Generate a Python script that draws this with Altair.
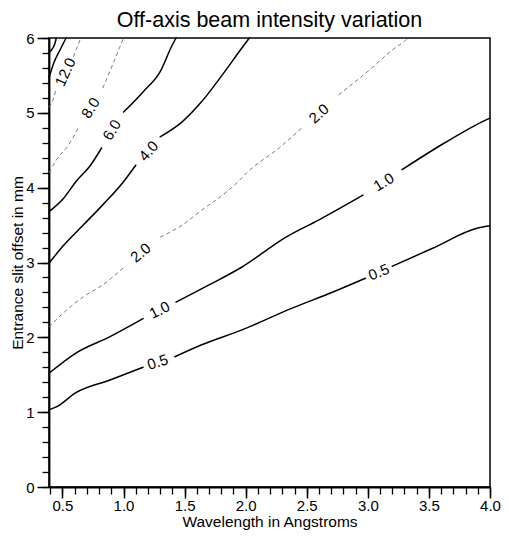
import altair as alt
import pandas as pd

# ---------------- data ----------------
X_DOMAIN = [0.39, 4.0]
Y_DOMAIN = [0, 6]
X_MAJOR = [0.5, 1.0, 1.5, 2.0, 2.5, 3.0, 3.5, 4.0]
X_MINOR = [round(0.4 + 0.1 * i, 1) for i in range(37)]
Y_MAJOR = [0, 1, 2, 3, 4, 5, 6]
Y_MINOR = [round(0.2 * i, 1) for i in range(31)]

# contour polylines (wavelength, offset); each inner list is one stretch between labels
LEVEL_05 = [
    [(0.39, 1.03), (0.45, 1.07), (0.61, 1.26), (0.89, 1.43), (1.16, 1.60)],
    [(1.42, 1.74), (1.64, 1.90), (1.97, 2.10), (2.38, 2.39), (2.72, 2.61), (2.98, 2.79)],
    [(3.20, 2.95), (3.53, 3.19), (3.90, 3.46), (4.00, 3.49)],
]
LEVEL_10 = [
    [(0.39, 1.52), (0.61, 1.79), (0.89, 2.01), (1.16, 2.25)],
    [(1.43, 2.47), (1.70, 2.70), (1.97, 2.94), (2.33, 3.34), (2.60, 3.57), (2.96, 3.90)],
    [(3.28, 4.24), (3.63, 4.60), (3.96, 4.90), (4.00, 4.93)],
]
LEVEL_20 = [
    [(0.39, 2.14), (0.51, 2.33), (0.67, 2.54), (0.83, 2.70), (1.00, 2.93)],
    [(1.30, 3.34), (1.48, 3.50), (1.64, 3.70), (1.81, 3.90), (1.95, 4.10), (2.01, 4.20),
     (2.28, 4.54), (2.46, 4.80)],
    [(2.76, 5.24), (3.04, 5.61), (3.20, 5.84), (3.31, 5.97), (3.33, 6.00)],
]
LEVEL_40 = [
    [(0.39, 2.99), (0.51, 3.23), (0.67, 3.50), (0.83, 3.77), (1.00, 4.08), (1.10, 4.30)],
    [(1.30, 4.68), (1.48, 4.88), (1.64, 5.15), (1.81, 5.51), (1.97, 5.87), (2.03, 6.00)],
]
LEVEL_60 = [
    [(0.39, 3.68), (0.51, 3.86), (0.61, 4.08), (0.73, 4.30), (0.82, 4.53)],
    [(1.00, 5.01), (1.16, 5.28), (1.30, 5.55), (1.40, 5.91), (1.43, 6.00)],
]
LEVEL_80 = [
    [(0.39, 4.20), (0.45, 4.37), (0.55, 4.57), (0.63, 4.80)],
    [(0.83, 5.33), (0.91, 5.64), (1.00, 6.00)],
]
LEVEL_120 = [
    [(0.39, 5.07), (0.43, 5.21), (0.45, 5.33)],
    [(0.59, 5.75), (0.65, 6.00)],
]
LEVEL_160 = [[(0.39, 5.47), (0.43, 5.67), (0.48, 5.84), (0.53, 6.00)]]
LEVEL_200 = [[(0.39, 5.80), (0.41, 5.84), (0.435, 5.91), (0.45, 6.00)]]

LEVELS = {
    "0.5": LEVEL_05, "1.0": LEVEL_10, "2.0": LEVEL_20, "4.0": LEVEL_40,
    "6.0": LEVEL_60, "8.0": LEVEL_80, "12.0": LEVEL_120, "16.0": LEVEL_160,
    "20.0": LEVEL_200,
}
FAINT_LEVELS = ["2.0", "8.0", "12.0"]

LABEL_TEXT = ["0.5", "0.5", "1.0", "1.0", "2.0", "2.0", "4.0", "6.0", "8.0", "12.0"]
LABEL_X = [1.28, 3.09, 1.295, 3.13, 1.14, 2.60, 1.205, 0.905, 0.73, 0.524]
LABEL_Y = [1.67, 2.87, 2.365, 4.075, 3.13, 4.99, 4.49, 4.77, 5.065, 5.545]
LABEL_ANGLE = [342, 338, 334, 328, 320, 318, 311, 301, 302, 295]

# ---------------- tables ----------------
rows = []
for lvl, segs in LEVELS.items():
    for si, seg in enumerate(segs):
        for pi, (xv, yv) in enumerate(seg):
            rows.append({"level": lvl, "seg": f"{lvl}-{si}", "order": pi,
                         "x": xv, "y": yv, "faint": lvl in FAINT_LEVELS})
lines = pd.DataFrame(rows)
labels = pd.DataFrame({"text": LABEL_TEXT, "x": LABEL_X, "y": LABEL_Y,
                       "angle": LABEL_ANGLE})

FONT = "Liberation Sans"
xs = alt.Scale(domain=X_DOMAIN, nice=False, zero=False)
ys = alt.Scale(domain=Y_DOMAIN, nice=False, zero=False)

major_x = alt.Axis(values=X_MAJOR, format=".1f", orient="bottom", tickSize=11,
                   tickWidth=1.5, tickColor="black", domainColor="black",
                   domainWidth=1.8, labelFont=FONT, labelFontSize=15,
                   labelColor="black", labelBaseline="alphabetic", labelPadding=12,
                   labelFlush=False, labelOverlap=False, labelBound=False,
                   titleFont=FONT, titleFontSize=15.5, titleFontWeight="normal",
                   titleColor="black", titleY=39, titleBaseline="alphabetic")
major_y = alt.Axis(values=Y_MAJOR, format="d", orient="left", tickSize=12,
                   tickWidth=1.5, tickColor="black", domainColor="black",
                   domainWidth=1.8, labelFont=FONT, labelFontSize=15,
                   labelColor="black", labelPadding=3, labelFlush=False,
                   labelOverlap=False, labelBound=False,
                   titleFont=FONT, titleFontSize=15.5, titleFontWeight="normal",
                   titleColor="black", titleX=-27, titleBaseline="alphabetic")
minor_x = alt.Axis(values=X_MINOR, orient="bottom", tickSize=7, tickWidth=1.3,
                   tickColor="black", labels=False, domain=False)
minor_y = alt.Axis(values=Y_MINOR, orient="left", tickSize=7, tickWidth=1.3,
                   tickColor="black", labels=False, domain=False)

solid = alt.Chart(lines).transform_filter("!datum.faint").mark_line(
    color="black", strokeWidth=1.5, strokeCap="round", strokeJoin="round",
    interpolate="monotone"
).encode(
    x=alt.X("x:Q", scale=xs, axis=major_x, title="Wavelength in Angstroms"),
    y=alt.Y("y:Q", scale=ys, axis=major_y, title="Entrance slit offset in mm"),
    detail="seg:N",
    order="order:Q",
)

faint = alt.Chart(lines).transform_filter("datum.faint").mark_line(
    color="#6f6f6f", strokeWidth=0.9, strokeDash=[4, 3], interpolate="monotone"
).encode(
    x=alt.X("x:Q", scale=xs, axis=None),
    y=alt.Y("y:Q", scale=ys, axis=None),
    detail="seg:N",
    order="order:Q",
)

text = alt.Chart(labels).mark_text(
    font=FONT, fontSize=15, color="black", align="center", baseline="middle"
).encode(
    x=alt.X("x:Q", scale=xs, axis=minor_x, title=None),
    y=alt.Y("y:Q", scale=ys, axis=minor_y, title=None),
    text="text:N",
    angle=alt.Angle("angle:Q", scale=None),
)

chart = alt.layer(solid, faint, text).resolve_axis(
    x="independent", y="independent"
).properties(
    width=441,
    height=449,
    autosize="none",
    padding={"left": 41, "top": 30, "right": 11, "bottom": 43},
    title=alt.Title("Off-axis beam intensity variation", font=FONT, fontSize=21.5,
                    fontWeight="normal", color="black", anchor="middle",
                    offset=0),
).configure_view(
    stroke="black", strokeWidth=1.5
).configure_axis(grid=False)

chart.save("out.html", embed_options={"renderer": "svg", "actions": False})
